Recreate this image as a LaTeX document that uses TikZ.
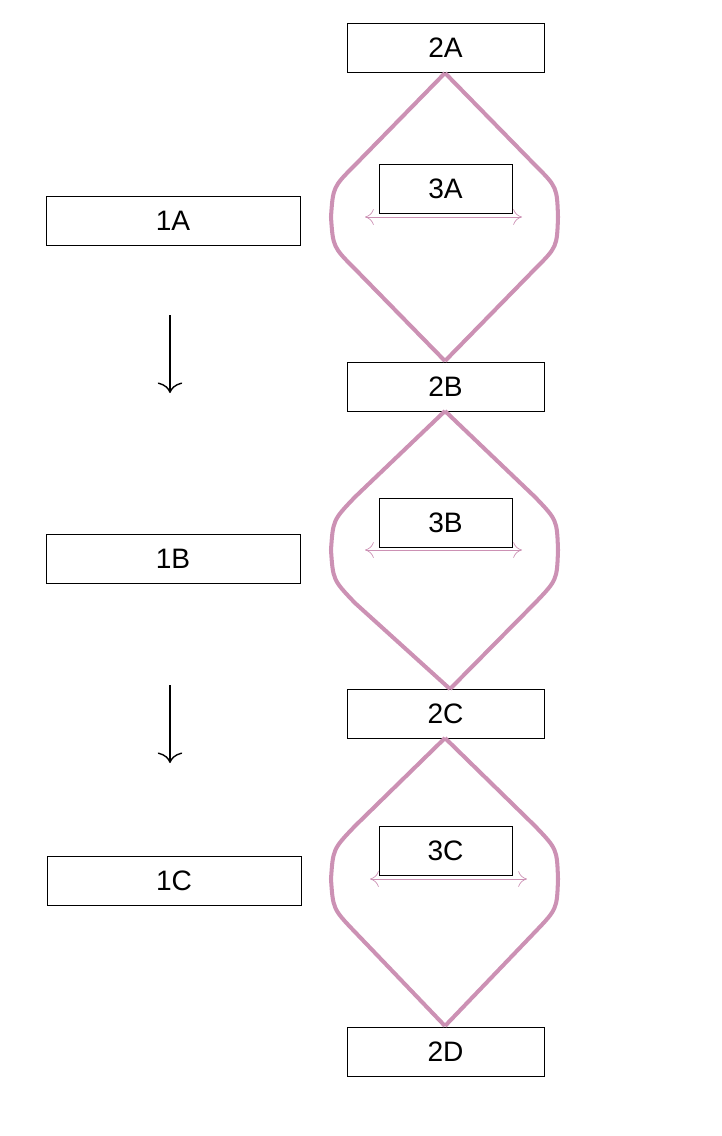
\documentclass[tikz,border=0pt]{standalone}
\usepackage{fontspec}
\setmainfont{Liberation Sans}
\usetikzlibrary{arrows.meta}
\definecolor{lens}{RGB}{204,145,180}
\tikzstyle{bx}=[draw=black,thin,minimum height=0.98cm,inner sep=0pt,font=\fontsize{16}{18}\selectfont]
\tikzstyle{wide}=[bx,minimum width=3.94cm]
\tikzstyle{lbox}=[bx,minimum width=5.08cm]
\tikzstyle{small}=[bx,minimum width=2.66cm]
\tikzstyle{curve}=[lens,line width=2.3pt]
\tikzstyle{span}=[lens,thin,{To[length=5pt,width=9pt]}-{To[length=5pt,width=9pt]}]
\begin{document}
\begin{tikzpicture}[x=0.02cm,y=-0.02cm]
\useasboundingbox (0,0) rectangle (722,1136);
\node[wide] (2A) at (445.5,47.5) {2A};
\node[wide] (2B) at (445.5,386.5) {2B};
\node[wide] (2C) at (445.5,713.5) {2C};
\node[wide] (2D) at (445.5,1051.5) {2D};
\node[lbox] (1A) at (173,220.5) {1A};
\node[lbox] (1B) at (173,558.5) {1B};
\node[lbox] (1C) at (174,880.5) {1C};
\node[small] (3A) at (445.5,188.5) {3A};
\node[small] (3B) at (445.5,522.5) {3B};
\node[small] (3C) at (445.5,850.5) {3C};
% lenses
\draw[curve] (445,73) -- (355,165) .. controls (333,187) .. (331,217) .. controls (333,247) .. (355,269) -- (445,361);
\draw[curve] (445,73) -- (535,165) .. controls (557,187) .. (558,217) .. controls (557,247) .. (535,269) -- (445,361);
\draw[curve] (445,411) -- (355,497) .. controls (333,520) .. (331,550) .. controls (333,580) .. (355,603) -- (450,689);
\draw[curve] (445,411) -- (535,497) .. controls (557,520) .. (558,550) .. controls (557,580) .. (535,603) -- (450,689);
\draw[curve] (445,738) -- (355,826) .. controls (333,849) .. (331,879) .. controls (333,909) .. (355,932) -- (445,1026);
\draw[curve] (445,738) -- (535,826) .. controls (557,849) .. (558,879) .. controls (557,909) .. (535,932) -- (445,1026);
% spans
\coordinate (sA1) at (365,217); \coordinate (sA2) at (522,217);
\coordinate (sB1) at (365,550); \coordinate (sB2) at (522,550);
\coordinate (sC1) at (370,879); \coordinate (sC2) at (527,879);
\draw[span] (sA1) -- (sA2);
\draw[span] (sB1) -- (sB2);
\draw[span] (sC1) -- (sC2);
% steps
\coordinate (a1) at (170,315); \coordinate (a2) at (170,393);
\coordinate (b1) at (170,685); \coordinate (b2) at (170,763);
\draw[thick,-{To[length=6pt,width=14pt]}] (a1) -- (a2);
\draw[thick,-{To[length=6pt,width=14pt]}] (b1) -- (b2);
\end{tikzpicture}
\end{document}
